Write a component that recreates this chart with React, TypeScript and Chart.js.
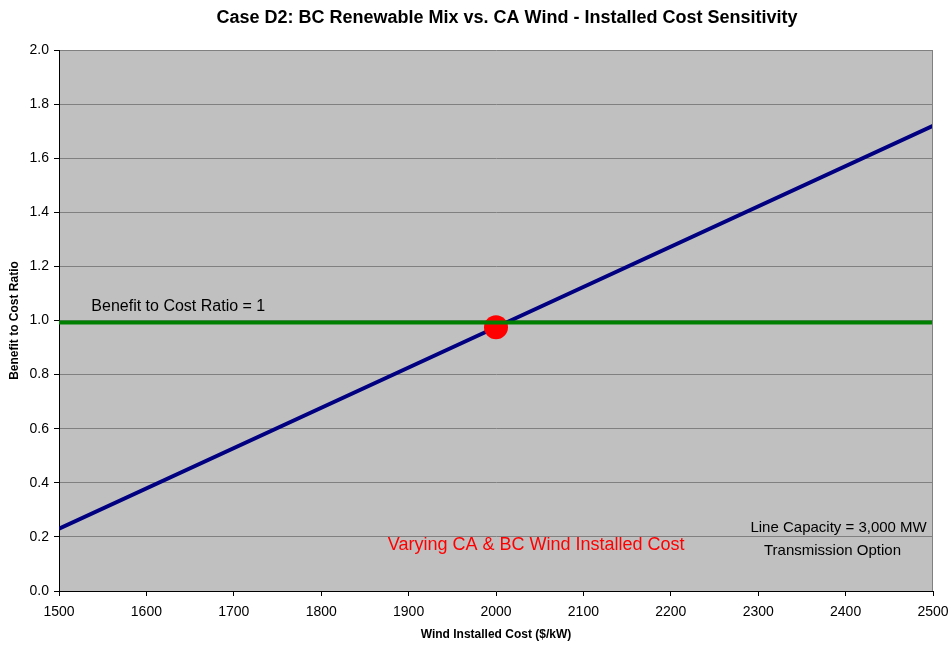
import React, { useEffect, useRef } from "react";
import { Chart, registerables } from "chart.js";

Chart.register(...registerables);

const TITLE = "Case D2: BC Renewable Mix vs. CA Wind - Installed Cost Sensitivity";
const X_TITLE = "Wind Installed Cost ($/kW)";
const Y_TITLE = "Benefit to Cost Ratio";

const costX = [1500, 2000, 2500];
const ratioY = [0.23, 0.975, 1.72];
const thresholdX = [1500, 2500];
const thresholdY = [0.993, 0.993];
const breakEvenX = [2000];
const breakEvenY = [0.975];

const FONT = 'Arial, "Liberation Sans", sans-serif';

const annotations = [
  { text: "Benefit to Cost Ratio = 1", x: 1537, y: 1.05, align: "left", color: "#000000", size: 16 },
  { text: "Varying CA & BC Wind Installed Cost", x: 2046, y: 0.17, align: "center", color: "#FF0000", size: 18 },
  { text: "Line Capacity = 3,000 MW", x: 2392, y: 0.233, align: "center", color: "#000000", size: 15 },
  { text: "Transmission Option", x: 2385, y: 0.148, align: "center", color: "#000000", size: 15 },
];

const zip = (xs: number[], ys: number[]) => xs.map((x, i) => ({ x, y: ys[i] }));

const bgPlugin = {
  id: "bgPlugin",
  beforeDraw(chart: any) {
    const { ctx, chartArea } = chart;
    ctx.save();
    ctx.fillStyle = "#C0C0C0";
    ctx.fillRect(chartArea.left, chartArea.top, chartArea.right - chartArea.left, chartArea.bottom - chartArea.top);
    ctx.restore();
  },
  afterDraw(chart: any) {
    const { ctx, chartArea, scales } = chart;
    ctx.save();
    ctx.strokeStyle = "#808080";
    ctx.lineWidth = 1;
    ctx.beginPath();
    ctx.moveTo(Math.round(chartArea.right) - 0.5, chartArea.top);
    ctx.lineTo(Math.round(chartArea.right) - 0.5, chartArea.bottom);
    ctx.stroke();
    ctx.textBaseline = "middle";
    for (const a of annotations) {
      ctx.font = `${a.size}px ${FONT}`;
      ctx.fillStyle = a.color;
      ctx.textAlign = a.align as CanvasTextAlign;
      ctx.fillText(a.text, scales.x.getPixelForValue(a.x), scales.y.getPixelForValue(a.y));
    }
    ctx.font = `bold 18px ${FONT}`;
    ctx.fillStyle = "#000000";
    ctx.textAlign = "center";
    ctx.fillText(TITLE, 507, 18);
    ctx.restore();
  },
};

export default function App() {
  const ref = useRef<HTMLCanvasElement>(null);
  useEffect(() => {
    document.body.style.margin = "0";
    const chart = new Chart(ref.current!, {
      type: "scatter",
      data: {
        datasets: [
          {
            label: "Threshold",
            data: zip(thresholdX, thresholdY),
            showLine: true,
            borderColor: "#008000",
            borderWidth: 4,
            pointRadius: 0,
            order: 0,
          },
          {
            label: "Break-even",
            data: zip(breakEvenX, breakEvenY),
            showLine: false,
            backgroundColor: "#FF0000",
            borderColor: "#FF0000",
            borderWidth: 0,
            pointRadius: 12,
            order: 1,
          },
          {
            label: "Ratio",
            data: zip(costX, ratioY),
            showLine: true,
            borderColor: "#000080",
            borderWidth: 4,
            pointRadius: 0,
            order: 2,
          },
        ],
      },
      options: {
        animation: false,
        responsive: false,
        maintainAspectRatio: false,
        layout: { padding: { left: 0, right: 19, top: 50, bottom: 0 } },
        plugins: {
          legend: { display: false },
          tooltip: { enabled: false },
          title: { display: false },
        },
        scales: {
          x: {
            type: "linear",
            min: 1500,
            max: 2500,
            afterFit: (s: any) => { s.height = 55; s.paddingLeft = 0; s.paddingRight = 0; },
            ticks: {
              stepSize: 100,
              color: "#000000",
              font: { family: FONT, size: 14 },
              padding: 8,
              maxRotation: 0,
              callback: (v: any) => String(v),
            },
            grid: { drawOnChartArea: false, drawTicks: true, tickLength: 5, color: "#000000", tickColor: "#000000" },
            border: { color: "#000000", width: 1 },
            title: {
              display: true,
              text: X_TITLE,
              color: "#000000",
              font: { family: FONT, size: 12, weight: "bold" },
              padding: { top: 0, bottom: 4 },
            },
          },
          y: {
            type: "linear",
            min: 0,
            max: 2,
            afterFit: (s: any) => { s.width = 59; },
            ticks: {
              stepSize: 0.2,
              color: "#000000",
              font: { family: FONT, size: 14 },
              padding: 5,
              callback: (v: any) => Number(v).toFixed(1),
            },
            grid: { color: "#808080", tickColor: "#000000", tickLength: 5, lineWidth: 1 },
            border: { color: "#000000", width: 1 },
            title: {
              display: true,
              text: Y_TITLE,
              color: "#000000",
              font: { family: FONT, size: 12, weight: "bold" },
              padding: { top: 7, bottom: 0 },
            },
          },
        },
      },
      plugins: [bgPlugin],
    });
    return () => chart.destroy();
  }, []);
  return (
    <div style={{ width: 952, height: 646, background: "#FFFFFF" }}>
      <canvas ref={ref} width={952} height={646} style={{ display: "block" }} />
    </div>
  );
}
